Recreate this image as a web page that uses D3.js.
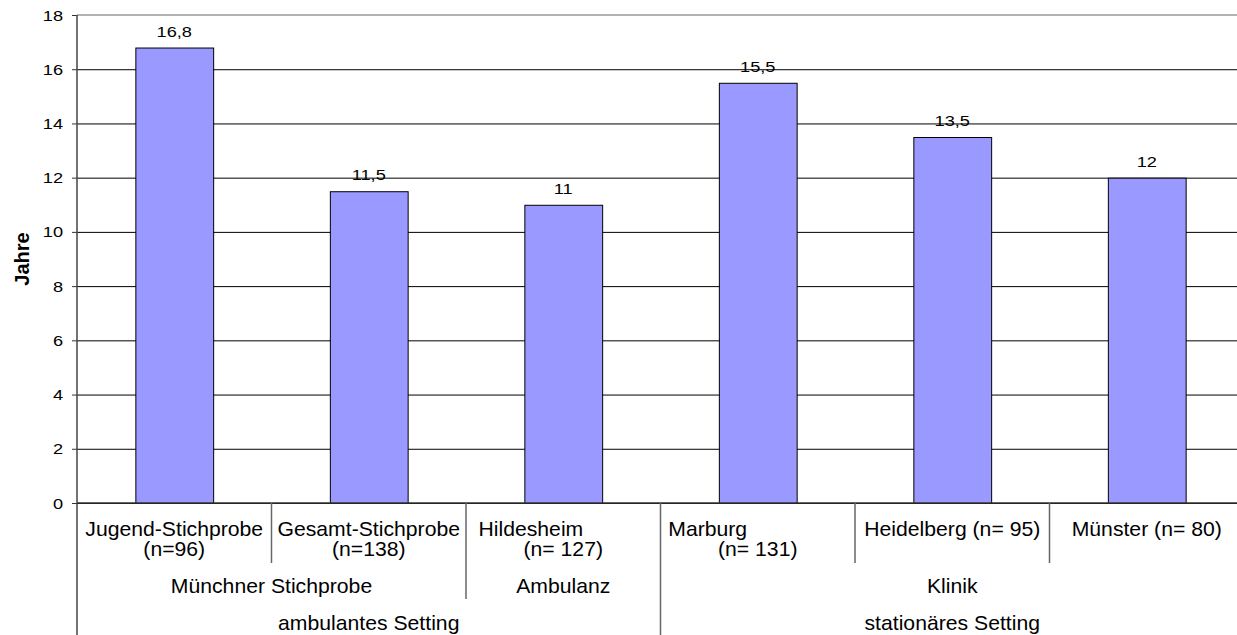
<!DOCTYPE html>
<html>
<head>
<meta charset="utf-8">
<script src="https://cdn.jsdelivr.net/npm/d3@7"></script>
<style>
  body { margin: 0; background: #fff; }
  text { font-family: "Liberation Sans", Arial, sans-serif; white-space: pre; }
</style>
</head>
<body>
<script>
// data_______________________________________________________________
var categories = ["Jugend-Stichprobe", "Gesamt-Stichprobe", "Hildesheim", "Marburg", "Heidelberg", "Münster"];
var values = [16.8, 11.5, 11, 15.5, 13.5, 12];
var labelLines = [
    ["Jugend-Stichprobe", "(n=96)"],
    ["Gesamt-Stichprobe", "(n=138)"],
    ["Hildesheim           ", "(n= 127)"],
    ["Marburg                 ", "(n= 131)"],
    ["Heidelberg (n= 95)"],
    ["Münster (n= 80)"]
];
var subGroups = ["Münchner Stichprobe", "Münchner Stichprobe", "Ambulanz", "Klinik", "Klinik", "Klinik"];
var settings = ["ambulantes Setting", "ambulantes Setting", "ambulantes Setting", "stationäres Setting", "stationäres Setting", "stationäres Setting"];
var yTicks = [0, 2, 4, 6, 8, 10, 12, 14, 16, 18];
var yTitle = "Jahre";

// layout_____________________________________________________________
var W = 1237, H = 635;
var plotLeft = 77, plotRight = 1244, plotTop = 15, plotBottom = 503;
var smallSx = 1.3, bigSx = 1.06;

var svg = d3.select("body").append("svg")
    .attr("width", W)
    .attr("height", H);

var x = d3.scaleBand()
    .domain(categories)
    .range([plotLeft, plotRight])
    .paddingInner(0.6)
    .paddingOuter(0.3);

var y = d3.scaleLinear()
    .domain([0, 18])
    .range([plotBottom, plotTop]);

// stretched text helper (the source text is wider than plain Arial)
function stretchedText(g, px, py, str, size, sx, anchor) {
    return g.append("text")
        .attr("x", px / sx)
        .attr("y", py)
        .attr("transform", "scale(" + sx + ",1)")
        .attr("font-size", size + "px")
        .attr("text-anchor", anchor || "middle")
        .attr("fill", "#000")
        .text(str);
}

// gridlines__________________________________________________________
svg.append("g")
    .attr("transform", "translate(" + plotLeft + ",0)")
    .call(d3.axisLeft(y).tickValues(yTicks.filter(function(d) { return d < 18; }))
        .tickSize(-(plotRight - plotLeft)).tickFormat(""))
    .call(function(g) { g.select(".domain").remove(); })
    .selectAll("line")
        .attr("stroke", "#000")
        .attr("stroke-width", 1);

// top border
svg.append("line")
    .attr("x1", plotLeft).attr("x2", plotRight)
    .attr("y1", y(18)).attr("y2", y(18))
    .attr("stroke", "#999").attr("stroke-width", 1.5);

// bars_______________________________________________________________
svg.selectAll("rect.bar")
    .data(values)
    .enter()
    .append("rect")
        .attr("class", "bar")
        .attr("x", function(d, i) { return x(categories[i]) + 0.5; })
        .attr("y", function(d) { return y(d) + 0.5; })
        .attr("width", x.bandwidth())
        .attr("height", function(d) { return y(0) - y(d); })
        .attr("fill", "#9999FF")
        .attr("stroke", "#000")
        .attr("stroke-width", 1);

// value labels
var valG = svg.append("g");
values.forEach(function(d, i) {
    stretchedText(valG, x(categories[i]) + x.bandwidth() / 2, y(d) - 11,
        String(d).replace(".", ","), 14, smallSx);
});

// y axis_____________________________________________________________
var yAxis = svg.append("g")
    .attr("transform", "translate(" + plotLeft + ",0)")
    .call(d3.axisLeft(y).tickValues(yTicks).tickSize(5).tickSizeOuter(0));

yAxis.select(".domain").remove();
yAxis.selectAll(".tick line").attr("stroke", "#333").attr("stroke-width", 1);
yAxis.selectAll(".tick text")
    .attr("font-family", "'Liberation Sans', Arial, sans-serif")
    .attr("font-size", "14px")
    .attr("fill", "#000")
    .attr("x", -14 / smallSx)
    .attr("dy", "0.36em")
    .attr("transform", "scale(" + smallSx + ",1)");

// y title
svg.append("text")
    .attr("transform", "translate(22," + ((plotTop + plotBottom) / 2) + ") rotate(-90)")
    .attr("text-anchor", "middle")
    .attr("font-size", "20px")
    .attr("font-weight", "bold")
    .attr("dy", "0.35em")
    .text(yTitle);

// axis lines
svg.append("line")
    .attr("x1", plotLeft).attr("x2", plotLeft)
    .attr("y1", plotTop).attr("y2", H)
    .attr("stroke", "#444").attr("stroke-width", 1.5);
svg.append("line")
    .attr("x1", plotLeft).attr("x2", plotRight)
    .attr("y1", plotBottom).attr("y2", plotBottom)
    .attr("stroke", "#333").attr("stroke-width", 1.5);

// multi level category axis__________________________________________
function boundary(i) { return x.range()[0] + i * x.step(); }

function runs(arr) {
    var out = [];
    arr.forEach(function(name, i) {
        if (out.length && out[out.length - 1].name === name) out[out.length - 1].end = i + 1;
        else out.push({name: name, start: i, end: i + 1});
    });
    return out;
}

var subRuns = runs(subGroups);
var setRuns = runs(settings);
var catG = svg.append("g");

// separators: the deeper the split, the longer the line
for (var i = 1; i < categories.length; i++) {
    var y2 = 563;
    if (subGroups[i] !== subGroups[i - 1]) y2 = 599;
    if (settings[i] !== settings[i - 1]) y2 = H;
    catG.append("line")
        .attr("x1", boundary(i)).attr("x2", boundary(i))
        .attr("y1", plotBottom).attr("y2", y2)
        .attr("stroke", "#666").attr("stroke-width", 1.5);
}

// level 1 labels
labelLines.forEach(function(lines, i) {
    var cx = (boundary(i) + boundary(i + 1)) / 2;
    lines.forEach(function(line, j) {
        stretchedText(catG, cx, 536 + j * 20, line, 20, bigSx);
    });
});

// level 2 labels
subRuns.forEach(function(r) {
    stretchedText(catG, (boundary(r.start) + boundary(r.end)) / 2, 593, r.name, 20, bigSx);
});

// level 3 labels
setRuns.forEach(function(r) {
    stretchedText(catG, (boundary(r.start) + boundary(r.end)) / 2, 630, r.name, 20, bigSx);
});
</script>
</body>
</html>
